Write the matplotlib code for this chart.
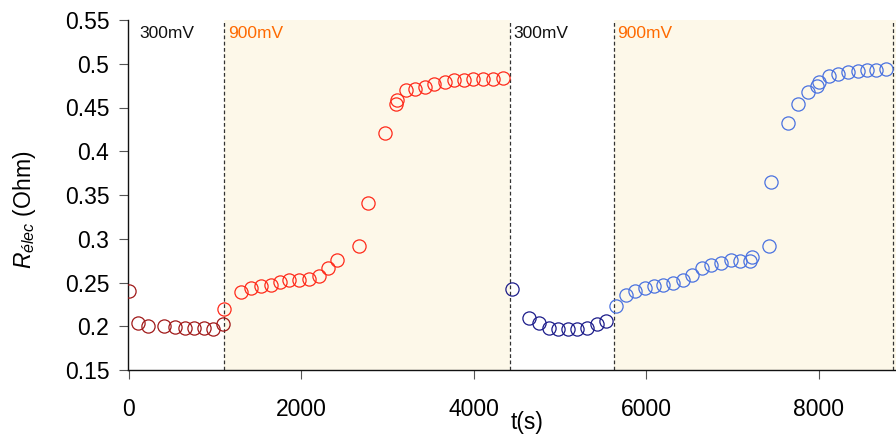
import matplotlib
matplotlib.use("Agg")
import matplotlib.pyplot as plt

plt.rcParams['font.family'] = ['Liberation Sans', 'DejaVu Sans']
plt.rcParams['mathtext.fontset'] = 'custom'
plt.rcParams['mathtext.rm'] = 'Liberation Sans'
plt.rcParams['mathtext.it'] = 'Liberation Sans:italic'

# Series 1: first 300 mV step (dark red)
t1 = [0, 108, 224, 406, 534, 650, 758, 867, 978, 1094]
r1 = [0.240, 0.2034, 0.2003, 0.2000, 0.1990, 0.1980, 0.1980, 0.1980, 0.1966, 0.2026]

# Series 2: first 900 mV step (red)
t2 = [1105, 1299, 1415, 1531, 1644, 1752, 1860, 1968, 2088, 2200, 2308, 2417,
      2664, 2776, 2970, 3094, 3109, 3210, 3318, 3434, 3542, 3662, 3770, 3886,
      3994, 4110, 4226, 4335]
r2 = [0.220, 0.2389, 0.2435, 0.2460, 0.2469, 0.2507, 0.2526, 0.2530, 0.2545,
      0.2576, 0.2663, 0.2759, 0.2915, 0.3407, 0.4208, 0.4540, 0.4590, 0.4696,
      0.4715, 0.4740, 0.4770, 0.4790, 0.4810, 0.4820, 0.4829, 0.4826, 0.4830,
      0.4837]

# Series 3: second 300 mV step (navy)
t3 = [4447, 4644, 4760, 4872, 4980, 5089, 5201, 5317, 5426, 5537]
r3 = [0.2423, 0.2098, 0.2034, 0.1977, 0.1970, 0.1970, 0.1970, 0.1977, 0.2023, 0.2057]

# Series 4: second 900 mV step (blue)
t4 = [5646, 5762, 5870, 5982, 6090, 6198, 6314, 6423, 6535, 6644, 6755, 6864,
      6980, 7088, 7204, 7231, 7428, 7444, 7641, 7764, 7873, 7977, 7997, 8113,
      8217, 8333, 8449, 8558, 8666, 8782]
r4 = [0.2232, 0.2358, 0.2407, 0.2442, 0.2461, 0.2473, 0.2495, 0.2526, 0.2590,
      0.2667, 0.2700, 0.2728, 0.2755, 0.2744, 0.2744, 0.2790, 0.2915, 0.3648,
      0.4323, 0.4535, 0.4680, 0.4750, 0.4787, 0.4864, 0.4883, 0.4902, 0.4913,
      0.4932, 0.4932, 0.4944]

boundaries = [1105, 4415, 5622, 8855]
shaded = [(1105, 4415), (5622, 9000)]
step_labels = ['300mV', '900mV', '300mV', '900mV']
step_label_x = [116, 1150, 4460, 5667]
step_label_colors = ['#111111', '#ff6a00', '#111111', '#ff6a00']

yticks = [0.15, 0.2, 0.25, 0.3, 0.35, 0.4, 0.45, 0.5, 0.55]
ytick_labels = ['0.15', '0.2', '0.25', '0.3', '0.35', '0.4', '0.45', '0.5', '0.55']
xticks = [0, 2000, 4000, 6000, 8000]

fig = plt.figure(figsize=(8.96, 4.37), dpi=100)
ax = fig.add_axes([128/896, 1 - 370/437, 1 - 128/896, 350/437])

for a, b in shaded:
    ax.axvspan(a, b, color='#fdf8e9', zorder=0, lw=0)
for b in boundaries:
    ax.axvline(b, color='#333333', lw=0.9, ls=(0, (3, 2)), zorder=1)

ms = 9.5
mew = 0.9
ax.plot(t1, r1, 'o', ms=ms, mfc='none', mec='#a01818', mew=mew, zorder=3)
ax.plot(t2, r2, 'o', ms=ms, mfc='none', mec='#ff2a1a', mew=mew, zorder=3)
ax.plot(t3, r3, 'o', ms=ms, mfc='none', mec='#1c1c8a', mew=mew, zorder=3)
ax.plot(t4, r4, 'o', ms=ms, mfc='none', mec='#4a72e0', mew=mew, zorder=3)

for x, s, c in zip(step_label_x, step_labels, step_label_colors):
    ax.text(x, 0.535, s, color=c, fontsize=12.5, ha='left', va='center', zorder=4)

ax.set_xlim(-10, 8895)
ax.set_ylim(0.15, 0.55)
ax.set_yticks(yticks)
ax.set_yticklabels(ytick_labels)
ax.set_xticks(xticks)
ax.tick_params(axis='both', direction='out', length=6.5, width=0.8,
               labelsize=16.5, color='#555555')
ax.tick_params(axis='x', pad=14)
ax.tick_params(axis='y', pad=7)
for s in ['top', 'right']:
    ax.spines[s].set_visible(False)
for s in ['left', 'bottom']:
    ax.spines[s].set_linewidth(1.0)
    ax.spines[s].set_color('#111111')

fig.text(527/896, 1 - 422/437, 't(s)', ha='center', va='center', fontsize=16.5)
fig.text(25/896, 1 - 210/437, r'$R_{élec}$ (Ohm)', rotation=90,
         ha='center', va='center', fontsize=16.5)

fig.savefig('out.png', dpi=100)
